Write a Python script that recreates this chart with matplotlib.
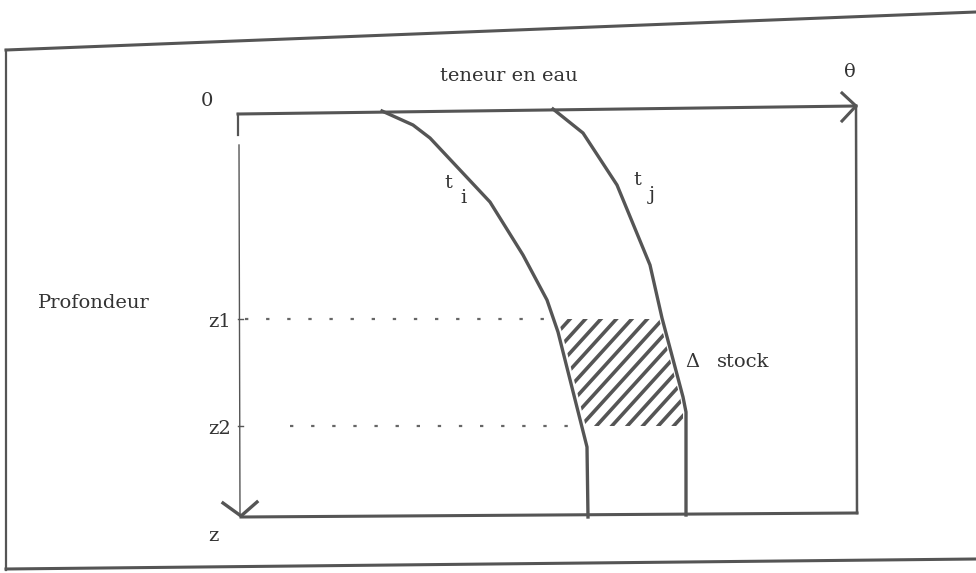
import numpy as np
import matplotlib.pyplot as plt

# Profil hydrique : teneur en eau en fonction de la profondeur (pixels du schéma)
ti_x = [382, 413, 430, 490, 523, 547, 558, 587, 588]
ti_y = [111, 125, 138, 202, 255, 300, 332, 447, 517]
tj_x = [553, 583, 617, 650, 662, 683, 686, 686]
tj_y = [109, 133, 185, 265, 318, 397, 412, 515]

z_labels = ['z1', 'z2']
z_levels = [319, 426]
dot_start = [245, 290]

line_col = '#555555'
text_col = '#333333'
font = 'DejaVu Serif'

fig = plt.figure(figsize=(9.76, 5.73), dpi=100)
ax = fig.add_axes([0, 0, 1, 1])
ax.set_xlim(0, 976)
ax.set_ylim(573, 0)
ax.axis('off')

# Cadre extérieur (légèrement incliné comme le scan)
ax.plot([6, 976], [50, 12], color=line_col, lw=2.2)
ax.plot([6, 976], [569, 559], color=line_col, lw=2.2)
ax.plot([6, 6], [50, 570], color=line_col, lw=1.6)

# Axe horizontal (teneur en eau) avec flèche
ax.plot([238, 856], [114, 106], color=line_col, lw=2.2)
ax.plot([842, 856, 842], [93, 106, 121], color=line_col, lw=2.2)
ax.plot([856, 857], [106, 513], color=line_col, lw=1.8)

# Axe vertical (profondeur) avec flèche
ax.plot([238, 238], [114, 135], color=line_col, lw=1.6)
ax.plot([239, 240], [145, 515], color=line_col, lw=1.0)
ax.plot([223, 241, 257], [503, 516, 502], color=line_col, lw=2.4)
ax.plot([241, 857], [517, 513], color=line_col, lw=2.2)

# Courbes ti et tj
ax.plot(ti_x, ti_y, color=line_col, lw=2.4, solid_joinstyle='round')
ax.plot(tj_x, tj_y, color=line_col, lw=2.4, solid_joinstyle='round')

# Zone hachurée entre z1 et z2 (delta stock)
ys = np.linspace(z_levels[0], z_levels[1], 60)
left = np.interp(ys, ti_y, ti_x) + 4
right = np.interp(ys, tj_y, tj_x) - 3
poly = np.column_stack([np.concatenate([left, right[::-1]]),
                        np.concatenate([ys, ys[::-1]])])
patch = plt.Polygon(poly, closed=True, facecolor='none', edgecolor='none')
ax.add_patch(patch)
for b in np.arange(860, 1130, 17):
    xs = np.array([520.0, 720.0])
    hl, = ax.plot(xs, b - 1.1 * (xs - 520) - 520, color=line_col, lw=2.6)
    hl.set_clip_path(patch)

# Lignes pointillées et graduations
for lab, z, x0 in zip(z_labels, z_levels, dot_start):
    xe = np.interp(z, ti_y, ti_x)
    ax.plot([x0, xe], [z, z], color='#666666', lw=1.6, linestyle=(0, (1.5, 8)))
    ax.plot([238, 243], [z, z], color=line_col, lw=1.0)
    ax.text(220, z + 3, lab, ha='center', va='center', fontsize=14,
            family=font, color=text_col)

# Textes
ax.text(509, 76, 'teneur en eau', ha='center', va='center', fontsize=14,
        family=font, color=text_col)
ax.text(850, 72, 'θ', ha='center', va='center', fontsize=14,
        family=font, color=text_col)
ax.text(207, 101, '0', ha='center', va='center', fontsize=14,
        family=font, color=text_col)
ax.text(213, 536, 'z', ha='center', va='center', fontsize=14,
        family=font, color=text_col)
ax.text(94, 303, 'Profondeur', ha='center', va='center', fontsize=14,
        family=font, color=text_col)
ax.text(448, 183, 't', ha='center', va='center', fontsize=14, family=font, color=text_col)
ax.text(463, 198, 'i', ha='center', va='center', fontsize=14, family=font, color=text_col)
ax.text(637, 180, 't', ha='center', va='center', fontsize=14, family=font, color=text_col)
ax.text(652, 195, 'j', ha='center', va='center', fontsize=14, family=font, color=text_col)
ax.text(692, 362, 'Δ', ha='center', va='center', fontsize=14, family=font, color=text_col)
ax.text(743, 362, 'stock', ha='center', va='center', fontsize=14, family=font, color=text_col)

plt.savefig('out.png', dpi=100)
